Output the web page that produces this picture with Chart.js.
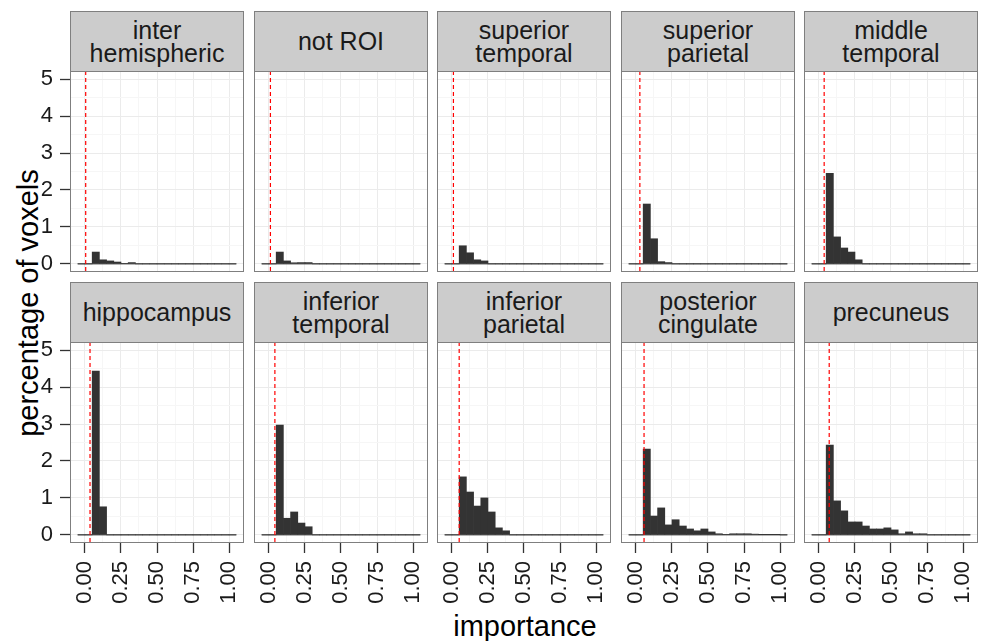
<!DOCTYPE html>
<html lang="en">
<head>
<meta charset="UTF-8">
<title>Importance histograms by region</title>
<script src="https://cdn.jsdelivr.net/npm/chart.js"></script>
<style>
  body { margin: 0; background: #fff; font-family: "Liberation Sans", Arial, sans-serif; }
  #figure { position: relative; width: 982px; height: 641px; overflow: hidden; }
  canvas { position: absolute; }
  .strip {
    position: absolute;
    box-sizing: border-box;
    background: #cccccc;
    border: 1px solid #7f7f7f;
    display: flex;
    align-items: center;
    justify-content: center;
    text-align: center;
    font-size: 25px;
    line-height: 23px;
    color: #1a1a1a;
    white-space: pre;
  }
  .title { position: absolute; font-size: 29px; color: #000; white-space: nowrap; }
</style>
</head>
<body>
<div id="figure">
  <div class="title" id="xTitle">importance</div>
  <div class="title" id="yTitle">percentage of voxels</div>
</div>

<script>
// facet labels, in reading order (2 rows x 5 columns)
const regions = [
  'inter\nhemispheric', 'not ROI', 'superior\ntemporal', 'superior\nparietal', 'middle\ntemporal',
  'hippocampus', 'inferior\ntemporal', 'inferior\nparietal', 'posterior\ncingulate', 'precuneus'
];

// histogram bins (centres), width 0.05
const binCenters = [-0.025, 0.025, 0.075, 0.125, 0.175, 0.225, 0.275, 0.325, 0.375, 0.425, 0.475,
                    0.525, 0.575, 0.625, 0.675, 0.725, 0.775, 0.825, 0.875, 0.925, 0.975, 1.025];
const binWidth = 0.05;

// percentage of voxels per bin
const interHemispheric   = [0, 0, 0.32, 0.11, 0.08, 0.05, 0.015, 0.035, 0, 0, 0, 0, 0, 0, 0, 0, 0, 0, 0, 0, 0, 0];
const notROI             = [0, 0, 0.32, 0.08, 0.03, 0.035, 0.035, 0, 0, 0, 0, 0, 0, 0, 0, 0, 0, 0, 0, 0, 0, 0];
const superiorTemporal   = [0, 0, 0.49, 0.30, 0.11, 0.08, 0, 0, 0, 0, 0, 0, 0, 0, 0, 0, 0, 0, 0, 0, 0, 0];
const superiorParietal   = [0, 0, 1.62, 0.68, 0.06, 0.035, 0, 0, 0, 0, 0, 0, 0, 0, 0, 0, 0, 0, 0, 0, 0, 0];
const middleTemporal     = [0, 0, 2.45, 0.73, 0.43, 0.32, 0.11, 0, 0, 0, 0, 0, 0, 0, 0, 0, 0, 0, 0, 0, 0, 0];
const hippocampus        = [0, 0, 4.43, 0.76, 0, 0, 0, 0, 0, 0, 0, 0, 0, 0, 0, 0, 0, 0, 0, 0, 0, 0];
const inferiorTemporal   = [0, 0, 2.97, 0.45, 0.62, 0.32, 0.22, 0, 0, 0, 0, 0, 0, 0, 0, 0, 0, 0, 0, 0, 0, 0];
const inferiorParietal   = [0, 0, 1.57, 1.16, 0.78, 1.0, 0.62, 0.19, 0.11, 0, 0, 0, 0, 0, 0, 0, 0, 0, 0, 0, 0, 0];
const posteriorCingulate = [0, 0, 2.32, 0.51, 0.73, 0.27, 0.41, 0.24, 0.16, 0.11, 0.16, 0.08, 0.03, 0.01, 0.03, 0.03, 0.03, 0.02, 0.005, 0.005, 0.005, 0];
const precuneus          = [0, 0, 2.43, 0.92, 0.65, 0.35, 0.35, 0.24, 0.16, 0.16, 0.19, 0.135, 0.03, 0.08, 0.03, 0.03, 0, 0, 0, 0, 0, 0];

const series = [interHemispheric, notROI, superiorTemporal, superiorParietal, middleTemporal,
                hippocampus, inferiorTemporal, inferiorParietal, posteriorCingulate, precuneus];

// red dashed line (threshold) per region
const thresholds = [0.005, 0.01, 0.01, 0.027, 0.036, 0.035, 0.041, 0.05, 0.056, 0.071];

// ticks
const xMajor = [0, 0.25, 0.5, 0.75, 1];
const xLabels = ['0.00', '0.25', '0.50', '0.75', '1.00'];
const xMinor = [0.125, 0.375, 0.625, 0.875];
const yMajor = [0, 1, 2, 3, 4, 5];
const yLabels = ['0', '1', '2', '3', '4', '5'];
const yMinor = [0.5, 1.5, 2.5, 3.5, 4.5];

// layout
const colLefts = [70, 254, 437, 621, 804];
const rowTops = [71, 342];
const plotW = 174, plotH = 201, stripH = 60;
const yAxisW = 70, xAxisH = 98;
const padT = 24, padR = 24, padB = 24;

const fig = document.getElementById('figure');
const tickFont = { family: '"Liberation Sans", Arial, sans-serif', size: 22 };

// draws the red threshold line and the panel frame
const panelExtras = {
  id: 'panelExtras',
  afterDatasetsDraw(chart, args, opts) {
    const a = chart.chartArea;
    const ctx = chart.ctx;
    const x = chart.scales.x.getPixelForValue(opts.threshold);
    ctx.save();
    ctx.strokeStyle = '#ff0000';
    ctx.lineWidth = 1.2;
    ctx.setLineDash([4, 3]);
    ctx.beginPath();
    ctx.moveTo(x, a.top);
    ctx.lineTo(x, a.bottom);
    ctx.stroke();
    ctx.setLineDash([]);
    ctx.lineWidth = 1;
    ctx.strokeStyle = '#7f7f7f';
    ctx.strokeRect(a.left + 0.5, a.top + 0.5, a.right - a.left - 1, a.bottom - a.top - 1);
    ctx.restore();
  }
};

function setTicks(major, minor) {
  return scale => {
    scale.ticks = major.concat(minor).sort((p, q) => p - q).map(v => ({ value: v }));
  };
}

const isMajor = (list, c) => c.tick !== undefined && list.includes(c.tick.value);

regions.forEach((name, i) => {
  const row = Math.floor(i / 5), col = i % 5;
  const showY = col === 0, showX = row === 1;
  const axW = showY ? yAxisW : 0;
  const axH = showX ? xAxisH : 0;
  const bottomPad = showX ? 0 : padB;

  const strip = document.createElement('div');
  strip.className = 'strip';
  strip.textContent = name;
  strip.style.left = colLefts[col] + 'px';
  strip.style.top = (rowTops[row] - stripH) + 'px';
  strip.style.width = plotW + 'px';
  strip.style.height = (stripH + 1) + 'px';
  fig.appendChild(strip);

  const canvas = document.createElement('canvas');
  canvas.width = axW + plotW + padR;
  canvas.height = padT + plotH + axH + bottomPad;
  canvas.style.left = (colLefts[col] - axW) + 'px';
  canvas.style.top = (rowTops[row] - padT) + 'px';
  fig.appendChild(canvas);

  new Chart(canvas, {
    type: 'bar',
    data: {
      datasets: [{
        data: binCenters.map((c, k) => ({ x: c, y: series[i][k] })),
        backgroundColor: '#333333',
        borderWidth: 0,
        barPercentage: 1,
        categoryPercentage: 1
      }, {
        type: 'line',
        data: [
          { x: binCenters[0] - binWidth / 2, y: 0 },
          { x: binCenters[binCenters.length - 1] + binWidth / 2, y: 0 }
        ],
        borderColor: '#333333',
        borderWidth: 1,
        pointRadius: 0
      }]
    },
    options: {
      responsive: false,
      animation: false,
      devicePixelRatio: 1,
      layout: { padding: { top: padT, right: padR, left: 0, bottom: bottomPad } },
      plugins: {
        legend: { display: false },
        tooltip: { enabled: false },
        panelExtras: { threshold: thresholds[i] }
      },
      scales: {
        x: {
          type: 'linear',
          offset: false,
          min: -0.104,
          max: 1.104,
          afterBuildTicks: setTicks(xMajor, xMinor),
          afterFit: s => { s.height = axH; },
          border: { display: false },
          grid: {
            offset: false,
            color: c => isMajor(xMajor, c) ? '#ebebeb' : '#f6f6f6',
            lineWidth: 1,
            drawTicks: showX,
            tickLength: 10,
            tickWidth: 1.3,
            tickColor: c => isMajor(xMajor, c) ? '#333333' : 'rgba(0,0,0,0)'
          },
          ticks: {
            display: showX,
            autoSkip: false,
            minRotation: 90,
            maxRotation: 90,
            padding: 8,
            color: '#1a1a1a',
            font: tickFont,
            callback: v => { const j = xMajor.indexOf(v); return j >= 0 ? xLabels[j] : ''; }
          }
        },
        y: {
          min: -0.22,
          max: 5.22,
          afterBuildTicks: setTicks(yMajor, yMinor),
          afterFit: s => { s.width = axW; },
          border: { display: false },
          grid: {
            color: c => isMajor(yMajor, c) ? '#ebebeb' : '#f6f6f6',
            lineWidth: 1,
            drawTicks: showY,
            tickLength: 10,
            tickWidth: 1.3,
            tickColor: c => isMajor(yMajor, c) ? '#333333' : 'rgba(0,0,0,0)'
          },
          ticks: {
            display: showY,
            autoSkip: false,
            padding: 7,
            color: '#1a1a1a',
            font: tickFont,
            callback: v => { const j = yMajor.indexOf(v); return j >= 0 ? yLabels[j] : ''; }
          }
        }
      }
    },
    plugins: [panelExtras]
  });
});

// axis titles
const xTitle = document.getElementById('xTitle');
xTitle.style.left = '525px';
xTitle.style.top = '626px';
xTitle.style.transform = 'translate(-50%, -50%)';
const yTitle = document.getElementById('yTitle');
yTitle.style.left = '28px';
yTitle.style.top = '303px';
yTitle.style.transform = 'translate(-50%, -50%) rotate(-90deg)';
</script>
</body>
</html>
